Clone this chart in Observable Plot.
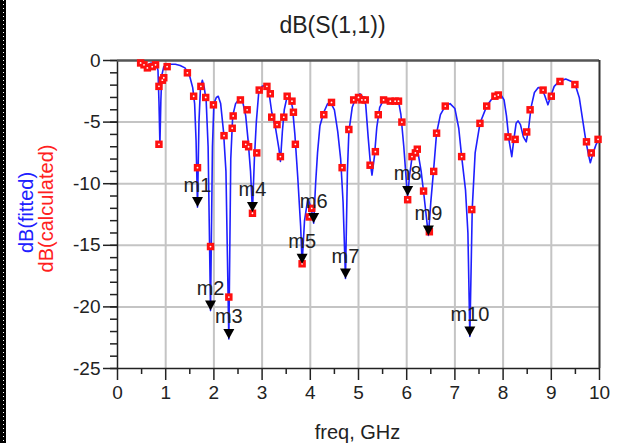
<!DOCTYPE html>
<html>
<head>
<meta charset="utf-8">
<script src="https://cdn.jsdelivr.net/npm/d3@7"></script>
<script src="https://cdn.jsdelivr.net/npm/@observablehq/plot@0.6"></script>
<style>
  html, body { margin: 0; padding: 0; background: #fff; }
  #wrap { position: relative; width: 619px; height: 443px; overflow: hidden; }
  #strip { position: absolute; left: 0; top: 0; width: 6px; height: 443px; background: #000; }
  #strip div { position: absolute; left: 3px; top: 0; width: 1px; height: 443px;
    background: repeating-linear-gradient(#fff 0 1px, transparent 1px 4px); }
</style>
</head>
<body>
<div id="wrap"><div id="strip"><div></div></div></div>
<script>
// Fitted curve (blue line)
const fitFreq = [0.5,0.55,0.6,0.65,0.7,0.75,0.8,0.84,0.86,0.88,0.9,0.92,0.96,1.0,1.1,1.2,1.3,1.4,1.5,1.56,1.6,1.63,1.66,1.69,1.72,1.76,1.8,1.84,1.88,1.93,1.97,2.0,2.05,2.09,2.14,2.2,2.25,2.31,2.35,2.39,2.45,2.53,2.6,2.66,2.71,2.76,2.8,2.84,2.88,2.93,3.0,3.08,3.14,3.2,3.28,3.35,3.38,3.42,3.46,3.52,3.58,3.63,3.68,3.74,3.8,3.83,3.88,3.95,4.02,4.07,4.11,4.15,4.2,4.28,4.36,4.42,4.5,4.57,4.63,4.68,4.73,4.77,4.8,4.87,4.95,5.03,5.1,5.15,5.2,5.25,5.28,5.33,5.38,5.44,5.52,5.6,5.68,5.76,5.83,5.88,5.94,6.0,6.02,6.06,6.12,6.19,6.24,6.3,6.36,6.45,6.5,6.56,6.62,6.7,6.8,6.9,7.0,7.08,7.14,7.22,7.27,7.31,7.36,7.42,7.52,7.66,7.75,7.85,7.94,8.02,8.07,8.12,8.18,8.22,8.27,8.31,8.36,8.42,8.48,8.53,8.58,8.65,8.73,8.8,8.86,8.93,8.98,9.06,9.16,9.3,9.42,9.5,9.58,9.65,9.72,9.78,9.81,9.86,9.93,10.0];
const fitDb = [-0.2,-0.4,-0.7,-0.3,-0.2,-0.5,-0.3,-0.8,-3.3,-6.8,-3.2,-1.2,-0.5,-0.4,-0.3,-0.3,-0.4,-0.6,-1.3,-2.2,-3.5,-6.5,-11.9,-5.0,-2.3,-1.6,-2.2,-3.3,-7,-20.3,-7,-3.5,-3.0,-2.9,-3.5,-5.8,-9,-22.6,-8,-4.5,-3.5,-3.1,-3.4,-4.5,-6.5,-9,-12.3,-8,-5,-2.6,-2.1,-2.0,-2.5,-4.2,-5.5,-7.2,-8.2,-5.8,-4.0,-2.9,-3.0,-3.8,-6,-9.5,-13.5,-16.5,-13,-11.2,-12,-13.2,-10,-7.5,-5.3,-4.2,-3.5,-3.4,-4,-5.8,-8,-11.5,-17.7,-9,-5.8,-3.8,-3.0,-2.7,-3.0,-3.6,-6.2,-8.5,-9.3,-7.8,-5.4,-3.8,-3.2,-3.1,-3.3,-3.2,-3.3,-4.4,-7,-10.2,-11.0,-9.3,-7.6,-7.0,-7.6,-9,-11,-14.2,-11.5,-8.8,-5.9,-4.4,-3.7,-3.5,-3.9,-5.5,-7.8,-10.5,-14,-22.4,-12,-7.5,-5.1,-3.7,-3.2,-2.9,-2.7,-3.2,-4.5,-6.4,-7.8,-6.5,-5.1,-4.9,-5.2,-6.2,-6.6,-5.5,-3.8,-2.6,-2.2,-2.3,-2.8,-3.6,-3.0,-2.1,-1.7,-1.5,-1.7,-2.0,-3.0,-4.8,-6.6,-7.8,-8.3,-7.6,-6.8,-6.3];

// Calculated points (red squares)
const calcFreq = [0.48,0.55,0.62,0.72,0.79,0.86,0.86,0.93,0.96,1.03,1.45,1.58,1.66,1.73,1.83,1.93,1.99,2.21,2.31,2.38,2.4,2.55,2.66,2.69,2.72,2.8,2.89,2.94,3.1,3.17,3.2,3.31,3.38,3.45,3.52,3.62,3.65,3.69,3.83,3.98,4.03,4.28,4.44,4.66,4.8,4.9,5.0,5.07,5.14,5.24,5.35,5.41,5.52,5.66,5.76,5.83,5.9,6.02,6.11,6.18,6.22,6.35,6.47,6.56,6.62,6.8,7.14,7.35,7.52,7.66,7.83,7.9,8.1,8.25,8.49,8.56,8.83,9.0,9.18,9.49,9.73,9.83,9.97];
const calcDb = [-0.2,-0.35,-0.6,-0.5,-0.35,-2.1,-6.8,-1.6,-1.4,-0.5,-1.0,-2.9,-8.7,-2.1,-3.0,-15.1,-3.6,-6.1,-19.2,-5.5,-4.5,-3.2,-6.8,-4.0,-7.0,-12.4,-7.5,-2.4,-2.1,-2.7,-4.6,-5.2,-7.8,-4.6,-2.9,-3.3,-4.2,-6.8,-16.5,-12.7,-12.0,-4.4,-3.4,-8.7,-5.6,-3.2,-3.0,-3.2,-3.2,-8.5,-7.4,-4.4,-3.2,-3.3,-3.3,-3.3,-5.0,-11.3,-7.8,-7.5,-7.2,-10.6,-13.9,-9.0,-5.9,-3.7,-7.8,-12.1,-5.1,-3.7,-2.9,-2.8,-6.2,-6.4,-5.8,-4.0,-2.4,-2.9,-1.7,-1.95,-6.6,-7.5,-6.4];

// Markers
const markerNames = ["m1","m2","m3","m4","m5","m6","m7","m8","m9","m10"];
const markerFreq = [1.66,1.93,2.31,2.8,3.83,4.07,4.73,6.02,6.45,7.31];
const markerDb = [-11.9,-20.3,-22.6,-12.3,-16.5,-13.2,-17.7,-11.0,-14.2,-22.4];

// Ticks
const xTicks = [0,1,2,3,4,5,6,7,8,9,10];
const xMinor = [0.5,1.5,2.5,3.5,4.5,5.5,6.5,7.5,8.5,9.5];
const yTicks = [-25,-20,-15,-10,-5,0];
const yMinor = d3.range(-25, 1, 1);
const xGrid = [1,2,3,4,5,6,7,8,9];
const yGrid = [-20,-15,-10,-5];

const fitted = fitFreq.map((f, i) => ({f, db: fitDb[i]}));
const calc = calcFreq.map((f, i) => ({f, db: calcDb[i]}));
const markers = markerNames.map((name, i) => ({name, f: markerFreq[i], db: markerDb[i]}));

const downTri = {
  draw(ctx) {
    ctx.moveTo(-5.5, -10);
    ctx.lineTo(5.5, -10);
    ctx.lineTo(0, 0);
    ctx.closePath();
  }
};

const fmt = d => String(d);

const chart = Plot.plot({
  width: 619,
  height: 443,
  marginLeft: 117,
  marginRight: 20,
  marginTop: 60,
  marginBottom: 75,
  style: { fontFamily: "'Liberation Sans', Arial, sans-serif", fontSize: "19px", background: "transparent", color: "#222" },
  x: { domain: [0, 10], axis: null },
  y: { domain: [-25, 0], axis: null },
  marks: [
    Plot.gridX(xGrid, { stroke: "#c4c4c4", strokeOpacity: 1, strokeWidth: 2 }),
    Plot.gridY(yGrid, { stroke: "#c4c4c4", strokeOpacity: 1, strokeWidth: 2 }),
    Plot.axisX(xTicks, { tickSize: 12, tickPadding: 5, tickFormat: fmt, label: null, stroke: "#222", strokeWidth: 1.5, fill: "#222" }),
    Plot.axisX(xMinor, { tickSize: 6, tickFormat: () => "", label: null, stroke: "#222", strokeWidth: 1.5 }),
    Plot.axisY(yTicks, { tickSize: 14, tickPadding: 3, tickFormat: fmt, label: null, stroke: "#222", strokeWidth: 1.5, fill: "#222" }),
    Plot.axisY(yMinor, { tickSize: 7, tickFormat: () => "", label: null, stroke: "#222", strokeWidth: 1.5 }),
    Plot.ruleY([-25], { stroke: "#222", strokeWidth: 1.5 }),
    Plot.ruleX([0], { stroke: "#222", strokeWidth: 1.5 }),
    Plot.ruleY([0], { stroke: "#555", strokeWidth: 2.5 }),
    Plot.ruleX([10], { stroke: "#333", strokeWidth: 2 }),
    Plot.line(fitted, { x: "f", y: "db", stroke: "#1f1fff", strokeWidth: 1.6 }),
    Plot.dot(calc, { x: "f", y: "db", symbol: "square", r: 4.2, fill: "#ff1010", stroke: "none" }),
    Plot.dot(calc, { x: "f", y: "db", r: 0.9, fill: "#fff", stroke: "none" }),
    Plot.dot(markers, { x: "f", y: "db", symbol: downTri, fill: "#000", stroke: "none" }),
    Plot.text(markers, { x: "f", y: "db", text: "name", dy: -22, fontSize: 20, fill: "#222" }),
    Plot.text(["dB(S(1,1))"], { frameAnchor: "top", lineAnchor: "middle", textAnchor: "middle", dx: -26, dy: -35, fontSize: 23, fill: "#222" }),
    Plot.text(["freq, GHz"], { frameAnchor: "bottom", lineAnchor: "middle", textAnchor: "middle", dx: -1, dy: 64, fontSize: 20, fill: "#222" }),
    Plot.text(["dB(fitted)"], { frameAnchor: "left", lineAnchor: "middle", textAnchor: "middle", dx: -91, dy: -2, rotate: -90, fontSize: 20, fill: "#2020ff" }),
    Plot.text(["dB(calculated)"], { frameAnchor: "left", lineAnchor: "middle", textAnchor: "middle", dx: -71, dy: -6, rotate: -90, fontSize: 20, fill: "#ff2020" })
  ]
});
chart.style.position = "absolute";
chart.style.left = "0px";
chart.style.top = "0px";
document.getElementById("wrap").appendChild(chart);
</script>
</body>
</html>
